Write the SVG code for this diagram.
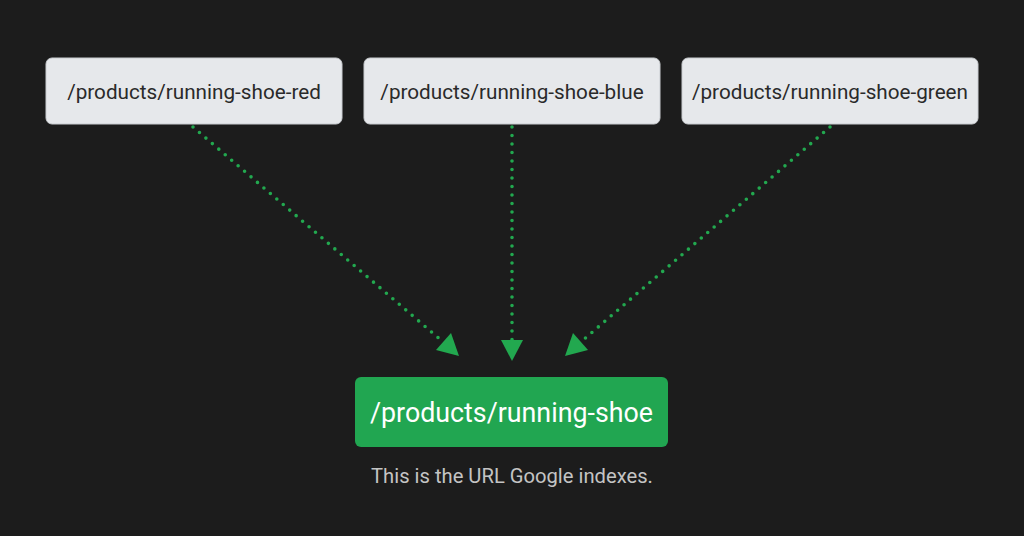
<svg xmlns="http://www.w3.org/2000/svg" width="1024" height="536" viewBox="0 0 1024 536">
<style>
.src rect{fill:#e6e8eb;stroke:#c9ccd0;stroke-width:1}
.src text{font-family:Roboto,"Liberation Sans",sans-serif;font-size:20.7px;fill:#2a2a2a;text-anchor:middle}
.conn line{stroke:#22a84f;stroke-width:3.6;stroke-dasharray:0 8.5;stroke-linecap:round;fill:none}
.conn polygon{fill:#22a84f}
</style>
<rect width="1024" height="536" fill="#1c1c1c"/>
<g id="node-red" class="src"><rect x="46" y="58" width="296" height="66" rx="6"/><text x="194" y="98.5">/products/running-shoe-red</text></g>
<g id="node-blue" class="src"><rect x="364" y="58" width="296" height="66" rx="6"/><text x="512" y="98.5">/products/running-shoe-blue</text></g>
<g id="node-green" class="src"><rect x="682" y="58" width="296" height="66" rx="6"/><text x="830" y="98.5">/products/running-shoe-green</text></g>
<g id="connectors" class="conn">
<line x1="193" y1="127" x2="442" y2="341"/>
<polygon points="459,356 436,350 451,333"/>
<line x1="512" y1="127" x2="512" y2="340"/>
<polygon points="512,361 501,340 523,340"/>
<line x1="830" y1="127" x2="582" y2="341"/>
<polygon points="565,356 573,333 588,350"/>
</g>
<g id="node-main"><rect x="355" y="377" width="313" height="70" rx="6" fill="#21a651"/><text x="511.5" y="421.5" font-family="Roboto,'Liberation Sans',sans-serif" font-size="26.8" fill="#ffffff" text-anchor="middle">/products/running-shoe</text></g>
<text x="512" y="483" font-family="Roboto,'Liberation Sans',sans-serif" font-size="20.2" fill="#c4c4c4" text-anchor="middle">This is the URL Google indexes.</text>
</svg>
